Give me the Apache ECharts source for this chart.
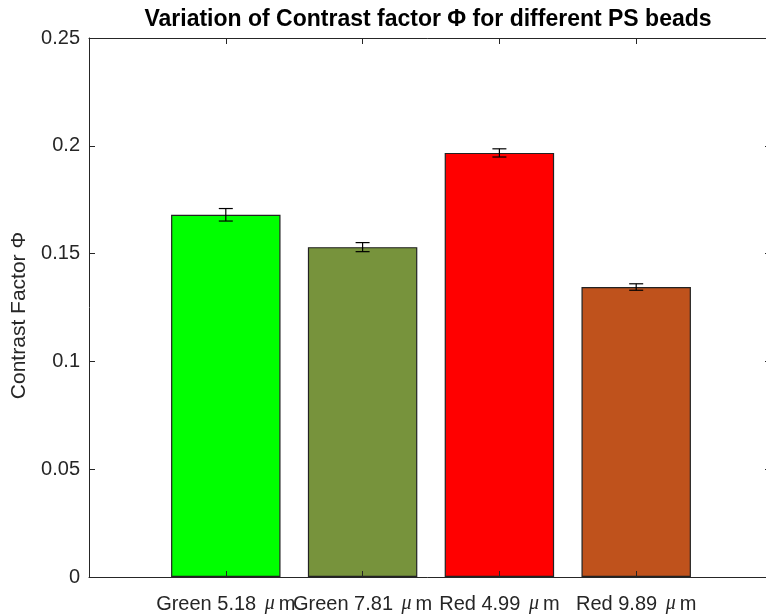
<!DOCTYPE html>
<html>
<head>
<meta charset="utf-8">
<style>
  html, body { margin: 0; padding: 0; background: #fff; }
  #chart { width: 766px; height: 614px; }
</style>
<script src="https://cdn.jsdelivr.net/npm/echarts@6/dist/echarts.min.js"></script>
</head>
<body>
<div id="chart"></div>
<script>
// Bead samples and their measured contrast factor (mean ± error)
const beadNames = ['Green 5.18', 'Green 7.81', 'Red 4.99', 'Red 9.89'];
const contrastFactor = [0.168, 0.153, 0.1967, 0.1345];
const contrastError = [0.0029, 0.0021, 0.0019, 0.0015];
const barColors = ['#00FF00', '#77933C', '#FF0000', '#BF521C'];
const yTicks = [0, 0.05, 0.1, 0.15, 0.2, 0.25];

const FONT = '"Liberation Sans", Arial, Helvetica, sans-serif';
const AXIS_COLOR = '#262626';

const chart = echarts.init(document.getElementById('chart'));

// Bars sit at x = 1..n on a 0..n+1 scale
const barData = contrastFactor.map((v, i) => ({
  value: [i + 1, v],
  itemStyle: { color: barColors[i] }
}));
const errData = contrastFactor.map((v, i) => [i + 1, v - contrastError[i], v + contrastError[i]]);

const xMax = beadNames.length + 1;
const gridLeft = 89, gridTop = 38, gridWidth = 684, gridHeight = 539;

// Shared style for the box outline: ticks point into the plot area
const boxLine = { show: true, onZero: false, lineStyle: { color: AXIS_COLOR, width: 1 } };

chart.setOption({
  animation: false,
  title: {
    text: 'Variation of Contrast factor \u03A6 for different PS beads',
    left: 423,
    textAlign: 'center',
    top: 3,
    textStyle: { fontFamily: FONT, fontSize: 23, fontWeight: 'bold', color: '#000' }
  },
  grid: {
    left: gridLeft, top: gridTop, width: gridWidth, height: gridHeight,
    outerBoundsMode: 'none', containLabel: false
  },
  xAxis: [{
    type: 'value', min: 0, max: xMax, interval: 1, position: 'bottom', z: 6,
    axisLine: boxLine,
    axisTick: { inside: true, length: 6, lineStyle: { color: AXIS_COLOR } },
    splitLine: { show: false },
    axisLabel: {
      margin: 17,
      fontFamily: FONT, fontSize: 20, color: AXIS_COLOR,
      formatter: v => (v >= 1 && v <= beadNames.length) ? beadNames[v - 1] + ' {mu|\u03BC}m' : '',
      rich: { mu: { fontFamily: '"Liberation Serif", serif', fontStyle: 'italic', fontSize: 20, color: AXIS_COLOR, padding: [0, 4, 0, 3] } }
    }
  }, {
    type: 'value', min: 0, max: xMax, interval: 1, position: 'top', z: 6,
    axisLine: boxLine,
    axisTick: { inside: true, length: 6, lineStyle: { color: AXIS_COLOR } },
    axisLabel: { show: false }, splitLine: { show: false }
  }],
  yAxis: [{
    type: 'value', min: yTicks[0], max: yTicks[yTicks.length - 1], interval: yTicks[1] - yTicks[0], z: 6,
    name: 'Contrast Factor \u03A6', nameLocation: 'middle', nameGap: 59, nameRotate: 90,
    nameTextStyle: { fontFamily: FONT, fontSize: 21, color: AXIS_COLOR, padding: [0, 16, 0, 0] },
    axisLine: boxLine,
    axisTick: { show: true, inside: true, length: 6, lineStyle: { color: AXIS_COLOR } },
    splitLine: { show: false },
    axisLabel: { margin: 9, fontFamily: FONT, fontSize: 20, color: AXIS_COLOR }
  }, {
    type: 'value', position: 'right', min: yTicks[0], max: yTicks[yTicks.length - 1], interval: yTicks[1] - yTicks[0], z: 6,
    axisLine: boxLine,
    axisTick: { show: true, inside: true, length: 8, lineStyle: { color: AXIS_COLOR } },
    axisLabel: { show: false }, splitLine: { show: false }
  }],
  series: [{
    type: 'bar',
    data: barData,
    barWidth: gridWidth / xMax * 0.8,
    itemStyle: { borderColor: '#222', borderWidth: 1.2 }
  }, {
    type: 'custom',
    data: errData,
    z: 5,
    renderItem: (params, api) => {
      const lo = api.coord([api.value(0), api.value(1)]);
      const hi = api.coord([api.value(0), api.value(2)]);
      const cap = 7;
      const style = { stroke: '#000', lineWidth: 1.2 };
      return {
        type: 'group',
        children: [
          { type: 'line', shape: { x1: lo[0], y1: lo[1], x2: hi[0], y2: hi[1] }, style },
          { type: 'line', shape: { x1: lo[0] - cap, y1: lo[1], x2: lo[0] + cap, y2: lo[1] }, style },
          { type: 'line', shape: { x1: hi[0] - cap, y1: hi[1], x2: hi[0] + cap, y2: hi[1] }, style }
        ]
      };
    }
  }]
});
</script>
</body>
</html>
